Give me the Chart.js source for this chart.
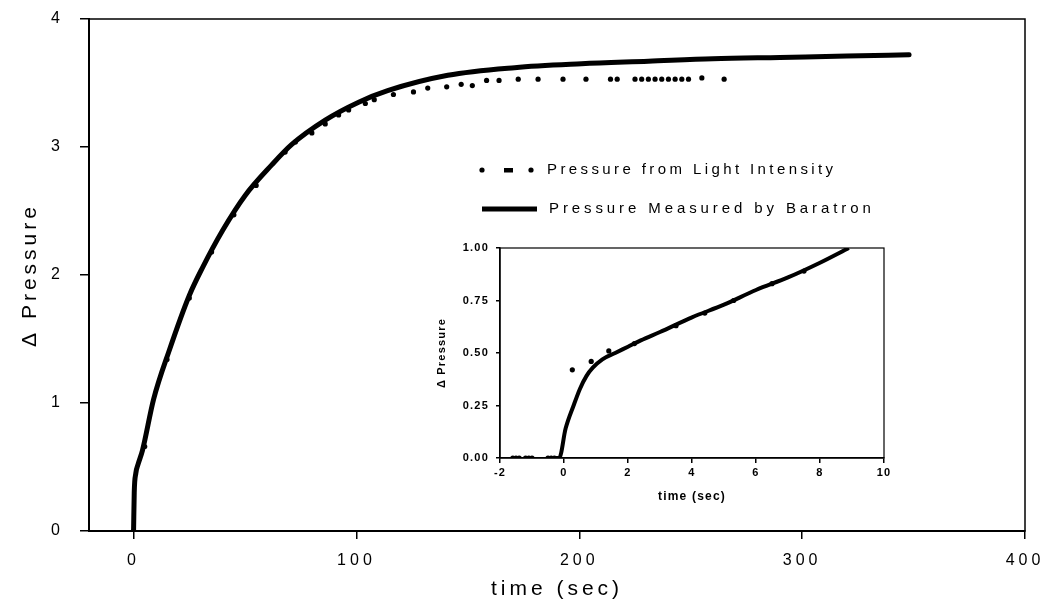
<!DOCTYPE html>
<html>
<head>
<meta charset="utf-8">
<script src="https://cdn.jsdelivr.net/npm/chart.js@4"></script>
<style>
    body { margin: 0; background: #fff; }
    #wrap { position: relative; width: 1043px; height: 606px; }
    #main { position: absolute; left: 0; top: 0; }
    #inset { position: absolute; left: 420px; top: 240px; }
</style>
</head>
<body>
<div id="wrap">
    <canvas id="main" width="1043" height="606"></canvas>
    <canvas id="inset" width="475" height="270"></canvas>
</div>
<script>
// main plot: whole run
var xTicks = [0, 100, 200, 300, 400];
var yTicks = [0, 1, 2, 3, 4];

var baraTime = [0, 0.3, 1, 2, 4, 9, 16, 25, 31, 40, 50, 62, 71, 86, 101, 114, 141, 171, 201, 231, 260, 290, 320, 348];
var baraDP   = [0, 0.3, 0.45, 0.52, 0.63, 1.03, 1.41, 1.84, 2.06, 2.35, 2.62, 2.86, 3.02, 3.21, 3.35, 3.44, 3.56, 3.62, 3.65, 3.67, 3.69, 3.70, 3.71, 3.72];

var lightTime = [0, 5, 15, 25, 35, 45, 55, 68, 72.6, 80, 86, 92, 96.5, 104, 108, 116.6, 125.6, 132, 140.5, 147, 152, 158.4, 164,
                 172.6, 181.5, 192.7, 203, 214, 217, 225, 228, 231, 234, 237, 240, 243, 246, 249, 255, 265];
var lightDP   = [0, 0.66, 1.34, 1.82, 2.18, 2.47, 2.70, 2.96, 3.04, 3.11, 3.18, 3.25, 3.29, 3.34, 3.37, 3.41, 3.43, 3.46, 3.47, 3.49, 3.48, 3.52, 3.52,
                 3.53, 3.53, 3.53, 3.53, 3.53, 3.53, 3.53, 3.53, 3.53, 3.53, 3.53, 3.53, 3.53, 3.53, 3.53, 3.54, 3.53];

// inset: first 10 seconds
var insetXTicks = [-2, 0, 2, 4, 6, 8, 10];
var insetYTicks = [0, 0.25, 0.5, 0.75, 1];

var insetBaraTime = [-0.3, -0.15, 0.05, 0.3, 0.5, 0.7, 0.9, 1.2, 1.6, 2.0, 2.4, 3, 4, 5, 6, 7, 8, 8.9];
var insetBaraDP   = [0, 0, 0.14, 0.25, 0.33, 0.39, 0.43, 0.47, 0.50, 0.53, 0.56, 0.60, 0.67, 0.73, 0.80, 0.86, 0.93, 1.0];

var insetLightTime = [-1.6, -1.5, -1.4, -1.2, -1.1, -1.0, -0.5, -0.4, -0.3, 0.26, 0.85, 1.4, 2.2, 3.5, 4.4, 5.3, 6.5, 7.5];
var insetLightDP   = [0, 0, 0, 0, 0, 0, 0, 0, 0, 0.42, 0.46, 0.51, 0.545, 0.63, 0.69, 0.75, 0.83, 0.89];

var FAMILY = "'Liberation Sans', Arial, sans-serif";

function zip(xs, ys) {
    return xs.map(function (x, i) { return { x: x, y: ys[i] }; });
}

function fixedTicks(values) {
    return function (scale) {
        scale.ticks = values.map(function (v) { return { value: v }; });
    };
}

// fixed box size, and no extra room for overhanging labels
function fitTo(prop, size) {
    return function (scale) {
        scale[prop] = size;
        scale.paddingTop = 0;
        scale.paddingBottom = 0;
        scale.paddingLeft = 0;
        scale.paddingRight = 0;
    };
}

// canvas letter spacing, the scanned figure has wide set text
var spacing = {
    id: 'spacing',
    beforeUpdate: function (chart, args, opts) { chart.ctx.letterSpacing = opts.px + 'px'; },
    beforeDraw: function (chart, args, opts) { chart.ctx.letterSpacing = opts.px + 'px'; }
};

// box round the plot area
var frame = {
    id: 'frame',
    afterDraw: function (chart, args, opts) {
        var a = chart.chartArea, ctx = chart.ctx;
        ctx.save();
        ctx.strokeStyle = '#000';
        ctx.lineWidth = opts.width;
        ctx.strokeRect(a.left, a.top, a.right - a.left, a.bottom - a.top);
        ctx.restore();
    }
};

// legend drawn inside the plot
var legendBox = {
    id: 'legendBox',
    afterDraw: function (chart) {
        var ctx = chart.ctx;
        var ds = chart.data.datasets;
        ctx.save();
        ctx.fillStyle = '#000';
        ctx.strokeStyle = '#000';
        ctx.font = '15px ' + FAMILY;
        ctx.textBaseline = 'middle';
        ctx.textAlign = 'left';
        // dotted sample
        ctx.beginPath(); ctx.arc(482, 170, 2.6, 0, 2 * Math.PI); ctx.fill();
        ctx.fillRect(504, 168, 9, 4.5);
        ctx.beginPath(); ctx.arc(531, 170, 2.6, 0, 2 * Math.PI); ctx.fill();
        ctx.letterSpacing = '3.4px';
        ctx.fillText(ds[0].label, 547, 170);
        // solid sample
        ctx.lineWidth = 5;
        ctx.beginPath(); ctx.moveTo(482, 209); ctx.lineTo(537, 209); ctx.stroke();
        ctx.letterSpacing = '3.9px';
        ctx.fillText(ds[1].label, 549, 209);
        ctx.restore();
    }
};

function axisStyle(tickLen, borderW) {
    return {
        grid: { drawOnChartArea: false, color: '#000', tickLength: tickLen, lineWidth: 1.5 },
        border: { color: '#000', width: borderW }
    };
}

function createMain(canvasId) {
    var ctx = document.getElementById(canvasId).getContext('2d');
    var xs = axisStyle(8, 2), ys = axisStyle(9, 2);
    new Chart(ctx, {
        type: 'scatter',
        data: {
            datasets: [{
                label: 'Pressure from Light Intensity',
                data: zip(lightTime, lightDP),
                showLine: false,
                pointRadius: 2.6,
                pointBorderWidth: 0,
                pointBackgroundColor: '#000',
                order: 2
            }, {
                label: 'Pressure Measured by Baratron',
                data: zip(baraTime, baraDP),
                showLine: true,
                borderColor: '#000',
                borderWidth: 5,
                borderCapStyle: 'round',
                pointRadius: 0,
                cubicInterpolationMode: 'monotone',
                order: 1
            }]
        },
        options: {
            responsive: false,
            animation: false,
            layout: { padding: { top: 19, right: 18, left: 0, bottom: 0 } },
            plugins: {
                legend: { display: false },
                tooltip: { enabled: false },
                spacing: { px: 4 },
                frame: { width: 1.5 }
            },
            scales: {
                x: {
                    type: 'linear', min: -20, max: 400,
                    afterBuildTicks: fixedTicks(xTicks),
                    afterFit: fitTo('height', 75),
                    grid: xs.grid, border: xs.border,
                    ticks: { color: '#000', font: { family: FAMILY, size: 16 }, padding: 12, maxRotation: 0 },
                    title: { display: true, text: 'time (sec)', color: '#000', font: { family: FAMILY, size: 21 }, padding: { top: 0, bottom: 4 } }
                },
                y: {
                    type: 'linear', min: 0, max: 4,
                    afterBuildTicks: fixedTicks(yTicks),
                    afterFit: fitTo('width', 89),
                    grid: ys.grid, border: ys.border,
                    ticks: { color: '#000', font: { family: FAMILY, size: 16 }, padding: 16 },
                    title: { display: true, text: 'Δ Pressure', color: '#000', font: { family: FAMILY, size: 21 }, padding: { top: 18, bottom: 0 } }
                }
            }
        },
        plugins: [spacing, frame, legendBox]
    });
}

function createInset(canvasId) {
    var ctx = document.getElementById(canvasId).getContext('2d');
    var xs = axisStyle(5, 1.5), ys = axisStyle(4, 1.5);
    new Chart(ctx, {
        type: 'scatter',
        data: {
            datasets: [{
                label: 'Pressure from Light Intensity',
                data: zip(insetLightTime, insetLightDP),
                showLine: false,
                pointRadius: 2.6,
                pointBorderWidth: 0,
                pointBackgroundColor: '#000',
                order: 2
            }, {
                label: 'Pressure Measured by Baratron',
                data: zip(insetBaraTime, insetBaraDP),
                showLine: true,
                borderColor: '#000',
                borderWidth: 4,
                pointRadius: 0,
                cubicInterpolationMode: 'monotone',
                order: 1
            }]
        },
        options: {
            responsive: false,
            animation: false,
            layout: { padding: { top: 8, right: 11, left: 0, bottom: 0 } },
            plugins: {
                legend: { display: false },
                tooltip: { enabled: false },
                spacing: { px: 1.2 },
                frame: { width: 1.2 }
            },
            scales: {
                x: {
                    type: 'linear', min: -2, max: 10,
                    afterBuildTicks: fixedTicks(insetXTicks),
                    afterFit: fitTo('height', 52),
                    grid: xs.grid, border: xs.border,
                    ticks: { color: '#000', font: { family: FAMILY, size: 11, weight: 'bold' }, padding: 3, maxRotation: 0 },
                    title: { display: true, text: 'time (sec)', color: '#000', font: { family: FAMILY, size: 12, weight: 'bold' }, padding: { top: 0, bottom: 6 } }
                },
                y: {
                    type: 'linear', min: 0, max: 1,
                    afterBuildTicks: fixedTicks(insetYTicks),
                    afterFit: fitTo('width', 80),
                    grid: ys.grid, border: ys.border,
                    ticks: {
                        color: '#000', font: { family: FAMILY, size: 11, weight: 'bold' }, padding: 7,
                        callback: function (v) { return v.toFixed(2); }
                    },
                    title: { display: true, text: 'Δ Pressure', color: '#000', font: { family: FAMILY, size: 11, weight: 'bold' }, padding: { top: 15, bottom: 0 } }
                }
            }
        },
        plugins: [spacing, frame]
    });
}

createMain('main');
createInset('inset');
</script>
</body>
</html>
